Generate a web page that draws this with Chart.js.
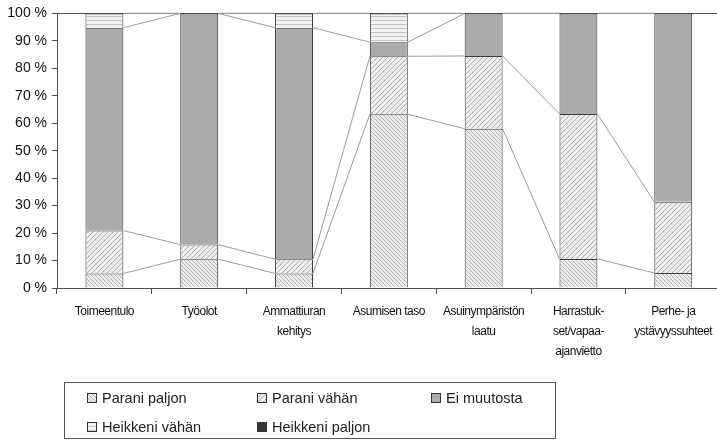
<!DOCTYPE html>
<html>
<head>
<meta charset="utf-8">
<script src="https://cdn.jsdelivr.net/npm/chart.js@4/dist/chart.umd.min.js"></script>
<style>
  html, body { margin: 0; padding: 0; background: #fff; overflow: hidden; }
  #wrap { position: relative; width: 717px; height: 443px; overflow: hidden; }
  #c { position: absolute; left: 0; top: 0; }
  #legend { position: absolute; left: 64px; top: 382px; width: 492px; height: 57px;
    border: 1px solid #555; border-top-width: 1.5px; box-sizing: border-box;
    font-family: 'Liberation Sans', Arial, sans-serif; font-size: 14.5px; color: #222; }
  .item { position: absolute; display: flex; align-items: center; white-space: nowrap; }
  .item canvas { margin-right: 5px; }
</style>
</head>
<body>
<div id="wrap">
  <canvas id="c" width="724" height="443"></canvas>
  <div id="legend"></div>
</div>
<script>
// ---- data ----
const categories = [
  ["Toimeentulo"],
  ["Työolot"],
  ["Ammattiuran", "kehitys"],
  ["Asumisen taso"],
  ["Asuinympäristön", "laatu"],
  ["Harrastuk-", "set/vapaa-", "ajanvietto"],
  ["Perhe- ja", "ystävyyssuhteet"]
];
const seriesNames = ["Parani paljon", "Parani vähän", "Ei muutosta", "Heikkeni vähän", "Heikkeni paljon"];
const paraniPaljon   = [5.3, 10.5, 5.3, 63.3, 58.0, 10.6, 5.5];
const paraniVahan    = [15.6, 5.3, 5.2, 21.1, 26.5, 52.8, 25.9];
const eiMuutosta     = [73.9, 84.2, 84.3, 5.1, 15.5, 36.6, 68.6];
const heikkeniVahan  = [5.2, 0, 5.2, 10.5, 0, 0, 0];
const heikkeniPaljon = [0, 0, 0, 0, 0, 0, 0];
const yTicks = [0, 10, 20, 30, 40, 50, 60, 70, 80, 90, 100];

// ---- patterns ----
function makePattern(kind) {
  const c = document.createElement('canvas');
  const s = kind === 'dense' ? 4 : (kind === 'diag' ? 5 : 4);
  c.width = s; c.height = s;
  const g = c.getContext('2d');
  if (kind === 'dense') {          // Parani paljon: dense "\" hatch
    g.fillStyle = '#ececec'; g.fillRect(0, 0, s, s);
    g.strokeStyle = '#b4b4b4'; g.lineWidth = 1;
    g.beginPath(); g.moveTo(0, 0); g.lineTo(s, s);
    g.moveTo(-s, 0); g.lineTo(s, 2 * s); g.moveTo(0, -s); g.lineTo(2 * s, s); g.stroke();
  } else if (kind === 'diag') {    // Parani vähän: "/" hatch
    g.fillStyle = '#eeeeee'; g.fillRect(0, 0, s, s);
    g.strokeStyle = '#b0b0b0'; g.lineWidth = 1;
    g.beginPath(); g.moveTo(0, s); g.lineTo(s, 0);
    g.moveTo(-s, s); g.lineTo(s, -s); g.moveTo(0, 2 * s); g.lineTo(2 * s, 0); g.stroke();
  } else if (kind === 'gray') {    // Ei muutosta: dotted mid gray
    g.fillStyle = '#a9a9a9'; g.fillRect(0, 0, s, s);
    g.fillStyle = '#b8b8b8'; g.fillRect(0, 0, 1, 1); g.fillRect(2, 2, 1, 1);
  } else if (kind === 'horiz') {   // Heikkeni vähän: horizontal lines
    g.fillStyle = '#f2f2f2'; g.fillRect(0, 0, s, s);
    g.fillStyle = '#c4c4c4'; g.fillRect(0, 0, s, 1);
  } else {                         // Heikkeni paljon: dark
    g.fillStyle = '#333333'; g.fillRect(0, 0, s, s);
  }
  return { canvas: c, pattern: document.getElementById('c').getContext('2d').createPattern(c, 'repeat') };
}
const kinds = ['dense', 'diag', 'gray', 'horiz', 'dark'];
const pats = kinds.map(makePattern);
const seriesValues = [paraniPaljon, paraniVahan, eiMuutosta, heikkeniVahan, heikkeniPaljon];

const datasets = seriesNames.map((name, i) => ({
  label: name,
  data: seriesValues[i],
  backgroundColor: pats[i].pattern,
  borderColor: '#3a3a3a',
  borderWidth: 1,
  barPercentage: 0.4,
  categoryPercentage: 1.0
}));

// series lines plugin (Excel-style connectors between stacked segments)
const seriesLines = {
  id: 'seriesLines',
  afterDatasetsDraw(chart) {
    const ctx = chart.ctx;
    ctx.save();
    ctx.strokeStyle = '#9a9a9a';
    ctx.lineWidth = 1;
    chart.data.datasets.forEach((ds, i) => {
      const meta = chart.getDatasetMeta(i);
      for (let j = 0; j < meta.data.length - 1; j++) {
        const a = meta.data[j], b = meta.data[j + 1];
        ctx.beginPath();
        ctx.moveTo(a.x + a.width / 2, a.y);
        ctx.lineTo(b.x - b.width / 2, b.y);
        ctx.stroke();
      }
    });
    ctx.restore();
  }
};

// condensed category labels: tighten letter spacing for the x-axis labels only
function condenseLabels(scale) {
  if (scale._condensed) return;
  scale._condensed = true;
  const orig = scale.drawLabels;
  scale.drawLabels = function (area) {
    const ctx = this.ctx;
    ctx.save();
    ctx.letterSpacing = '-0.5px';
    orig.call(this, area);
    ctx.restore();
  };
}

new Chart(document.getElementById('c'), {
  type: 'bar',
  data: { labels: categories, datasets },
  plugins: [seriesLines],
  options: {
    responsive: false,
    animation: false,
    layout: { padding: { top: 11, right: 1, left: 0, bottom: 75 } },
    plugins: { legend: { display: false }, tooltip: { enabled: false } },
    scales: {
      x: {
        stacked: true,
        afterFit(s) { s.height = 80; condenseLabels(s); },
        border: { display: true, color: '#505050', width: 1 },
        grid: { display: true, drawOnChartArea: false, offset: true, tickLength: 6, tickColor: '#505050' },
        ticks: { color: '#111', font: { family: "'Liberation Sans', Arial, sans-serif", size: 12, lineHeight: 1.667 }, padding: 8, maxRotation: 0, autoSkip: false }
      },
      y: {
        stacked: true,
        min: 0, max: 100,
        afterFit(s) { s.width = 57; },
        afterBuildTicks(s) { s.ticks = yTicks.map(v => ({ value: v })); },
        border: { display: true, color: '#505050', width: 1 },
        grid: {
          drawOnChartArea: true,
          color: c => (c.tick && c.tick.value === 100) ? '#505050' : 'rgba(0,0,0,0)',
          tickColor: '#505050', tickLength: 5
        },
        ticks: {
          color: '#111', padding: 5,
          font: { family: "'Liberation Sans', Arial, sans-serif", size: 14 },
          callback: v => v + ' %'
        }
      }
    }
  }
});

// ---- HTML legend ----
const legend = document.getElementById('legend');
const pos = [[22, 15], [192, 15], [366, 15], [22, 44], [192, 44]];
seriesNames.forEach((name, i) => {
  const it = document.createElement('div');
  it.className = 'item';
  it.style.left = pos[i][0] + 'px';
  it.style.top = (pos[i][1] - 9) + 'px';
  it.style.height = '18px';
  const sw = document.createElement('canvas');
  sw.width = 10; sw.height = 10;
  const g = sw.getContext('2d');
  g.fillStyle = g.createPattern(pats[i].canvas, 'repeat');
  g.fillRect(0, 0, 10, 10);
  g.strokeStyle = '#333'; g.lineWidth = 1; g.strokeRect(0.5, 0.5, 9, 9);
  it.appendChild(sw);
  const t = document.createElement('span');
  t.textContent = name;
  it.appendChild(t);
  legend.appendChild(it);
});
</script>
</body>
</html>
